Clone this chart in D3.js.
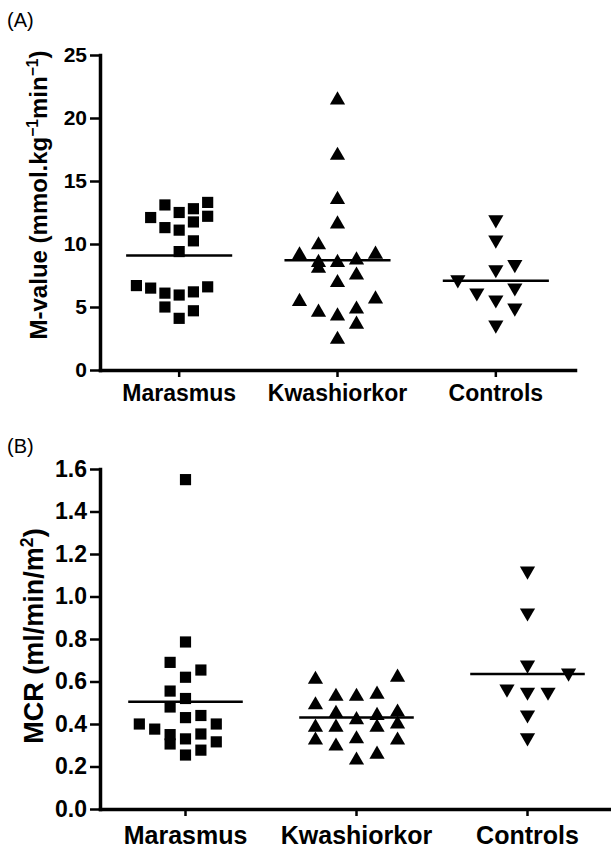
<!DOCTYPE html>
<html>
<head>
<meta charset="utf-8">
<script src="https://cdn.jsdelivr.net/npm/d3@7"></script>
<style>
  body { margin: 0; background: #fff; }
  text { font-family: "Liberation Sans", Arial, sans-serif; fill: #000; }
</style>
</head>
<body>
<svg id="chart" width="611" height="849"></svg>
<script>
// group names, shared by both panels
var categories = ["Marasmus", "Kwashiorkor", "Controls"];

// panel A: M-value (mmol/kg/min)
var mValueTicks = [0, 5, 10, 15, 20, 25];
var marasmusM = [12.1, 13.1, 12.5, 12.8, 13.3, 12.2, 11.3, 11.1, 11.75, 10.25, 9.4, 6.7, 6.5, 6.1, 5.95, 6.2, 6.6, 5.0, 4.7, 4.1];
var kwashiorkorM = [21.6, 17.2, 13.7, 11.75, 10.1, 9.3, 9.35, 8.7, 8.25, 8.7, 8.9, 7.7, 7.1, 5.6, 5.8, 4.75, 4.45, 5.0, 3.8, 2.6];
var controlsM = [11.75, 10.15, 8.2, 7.8, 7.0, 5.95, 6.35, 5.4, 4.75, 3.4];
// scatter column of each dot inside its group (0 = centre)
var marasmusMCol = [-2, -1, 0, 1, 2, 2, -1, 0, 1, 1, 0, -3, -2, -1, 0, 1, 2, -1, 1, 0];
var kwashiorkorMCol = [0, 0, 0, 0, -1, -2, 2, -1, -1, 0, 1, 1, 0, -2, 2, -1, 0, 1, 1, 0];
var controlsMCol = [0, 0, 1, 0, -2, -1, 1, 0, 1, 0];

// panel B: MCR (ml/min/m2)
var mcrTicks = [0, 0.2, 0.4, 0.6, 0.8, 1.0, 1.2, 1.4, 1.6];
var marasmusMCR = [1.55, 0.786, 0.69, 0.654, 0.62, 0.555, 0.52, 0.48, 0.43, 0.44, 0.40, 0.376, 0.40, 0.35, 0.306, 0.33, 0.353, 0.316, 0.277, 0.254];
var kwashiorkorMCR = [0.62, 0.63, 0.54, 0.54, 0.55, 0.50, 0.46, 0.43, 0.45, 0.466, 0.395, 0.395, 0.395, 0.41, 0.334, 0.306, 0.34, 0.334, 0.268, 0.24];
var controlsMCR = [1.11, 0.913, 0.668, 0.63, 0.555, 0.54, 0.54, 0.433, 0.325];
var marasmusMCRCol = [0, 0, -1, 1, 0, -1, 0, -1, 0, 1, -3, -2, 2, -1, -1, 0, 1, 2, 1, 0];
var kwashiorkorMCRCol = [-2, 2, -1, 0, 1, -2, -1, 0, 1, 2, -2, -1, 1, 2, -2, -1, 0, 2, 1, 0];
var controlsMCRCol = [0, 0, 0, 2, -1, 0, 1, 0, 0];

var svg = d3.select("#chart");

// marker per group: square, triangle, inverted triangle
var markers = [
  {type: d3.symbolSquare, size: 125, flip: false, step: 0.09},
  {type: d3.symbolTriangle, size: 100, flip: false, step: 0.12},
  {type: d3.symbolTriangle, size: 100, flip: true, step: 0.12}
];

function drawPanel(p) {
  var x = d3.scaleBand().domain(categories).range([p.left, p.right]);
  var y = d3.scaleLinear().domain([0, d3.max(p.ticks)]).range([p.bottom, p.top]);
  var g = svg.append("g");

  g.append("text")
      .attr("x", 7)
      .attr("y", p.labelY)
      .style("font-size", "20px")
      .text(p.label);

  // y axis
  var ya = g.append("g")
      .attr("transform", "translate(" + p.left + ",0)")
      .call(d3.axisLeft(y).tickValues(p.ticks).tickFormat(p.format)
        .tickSize(10).tickPadding(3).tickSizeOuter(0));
  ya.select(".domain").attr("stroke-width", 3.5).attr("stroke-linecap", "square");
  ya.selectAll(".tick line").attr("stroke-width", 2.5);
  ya.selectAll(".tick text")
      .style("font-size", p.tickSize + "px").style("font-weight", "bold")
      .attr("font-family", null);

  // x axis
  var xa = g.append("g")
      .attr("transform", "translate(0," + p.bottom + ")")
      .call(d3.axisBottom(x).tickSize(7).tickPadding(p.catPad).tickSizeOuter(0));
  xa.select(".domain").attr("stroke-width", 3.5).attr("stroke-linecap", "square");
  xa.selectAll(".tick line").attr("stroke-width", 2.5);
  xa.selectAll(".tick text")
      .style("font-size", p.catSize + "px").style("font-weight", "bold")
      .attr("font-family", null);

  // y title, with superscripts
  var t = g.append("text")
      .attr("transform", "translate(" + p.titleX + "," + p.titleY + ") rotate(-90)")
      .attr("text-anchor", "middle")
      .style("font-size", p.titleSize + "px")
      .style("font-weight", "bold");
  var raised = false;
  p.title.forEach(function(part) {
    var ts = t.append("tspan").text(part.s);
    if (part.sup) {
      ts.attr("dy", -0.36 * p.titleSize).style("font-size", "0.65em");
      raised = true;
    } else if (raised) {
      ts.attr("dy", 0.36 * p.titleSize);
      raised = false;
    }
  });

  // dots and mean lines
  p.groups.forEach(function(vals, i) {
    var m = markers[i];
    var cx = x(categories[i]) + x.bandwidth() / 2;
    var step = x.bandwidth() * m.step;
    var r = Math.sqrt(m.size / (3 * Math.sqrt(3)));
    var shift = m.type === d3.symbolTriangle ? (m.flip ? -r / 2 : r / 2) : 0;
    var sym = d3.symbol().type(m.type).size(m.size);

    g.append("g").selectAll("path")
        .data(vals)
      .enter().append("path")
        .attr("d", sym)
        .attr("fill", "#000")
        .attr("transform", function(d, j) {
          return "translate(" + (cx + p.cols[i][j] * step) + "," + (y(d) + shift) + ")" +
            (m.flip ? " rotate(180)" : "");
        });

    var mean = d3.mean(vals);
    var half = x.bandwidth() * 0.335;
    g.append("line")
        .attr("x1", cx - half)
        .attr("x2", cx + half)
        .attr("y1", y(mean))
        .attr("y2", y(mean))
        .attr("stroke", "#000")
        .attr("stroke-width", 2.5);
  });
}

drawPanel({
  label: "(A)", labelY: 27,
  left: 100, right: 575, top: 55, bottom: 370,
  ticks: mValueTicks, format: d3.format("d"),
  tickSize: 21, catSize: 23, catPad: 8,
  titleX: 47, titleY: 195, titleSize: 24,
  title: [{s: "M-value (mmol.kg"}, {s: "\u22121", sup: true}, {s: "min"}, {s: "\u22121", sup: true}, {s: ")"}],
  groups: [marasmusM, kwashiorkorM, controlsM],
  cols: [marasmusMCol, kwashiorkorMCol, controlsMCol]
});

drawPanel({
  label: "(B)", labelY: 453,
  left: 100, right: 613, top: 469, bottom: 809,
  ticks: mcrTicks, format: d3.format(".1f"),
  tickSize: 23, catSize: 25, catPad: 10,
  titleX: 43, titleY: 636, titleSize: 27,
  title: [{s: "MCR (ml/min/m"}, {s: "2", sup: true}, {s: ")"}],
  groups: [marasmusMCR, kwashiorkorMCR, controlsMCR],
  cols: [marasmusMCRCol, kwashiorkorMCRCol, controlsMCRCol]
});
</script>
</body>
</html>
